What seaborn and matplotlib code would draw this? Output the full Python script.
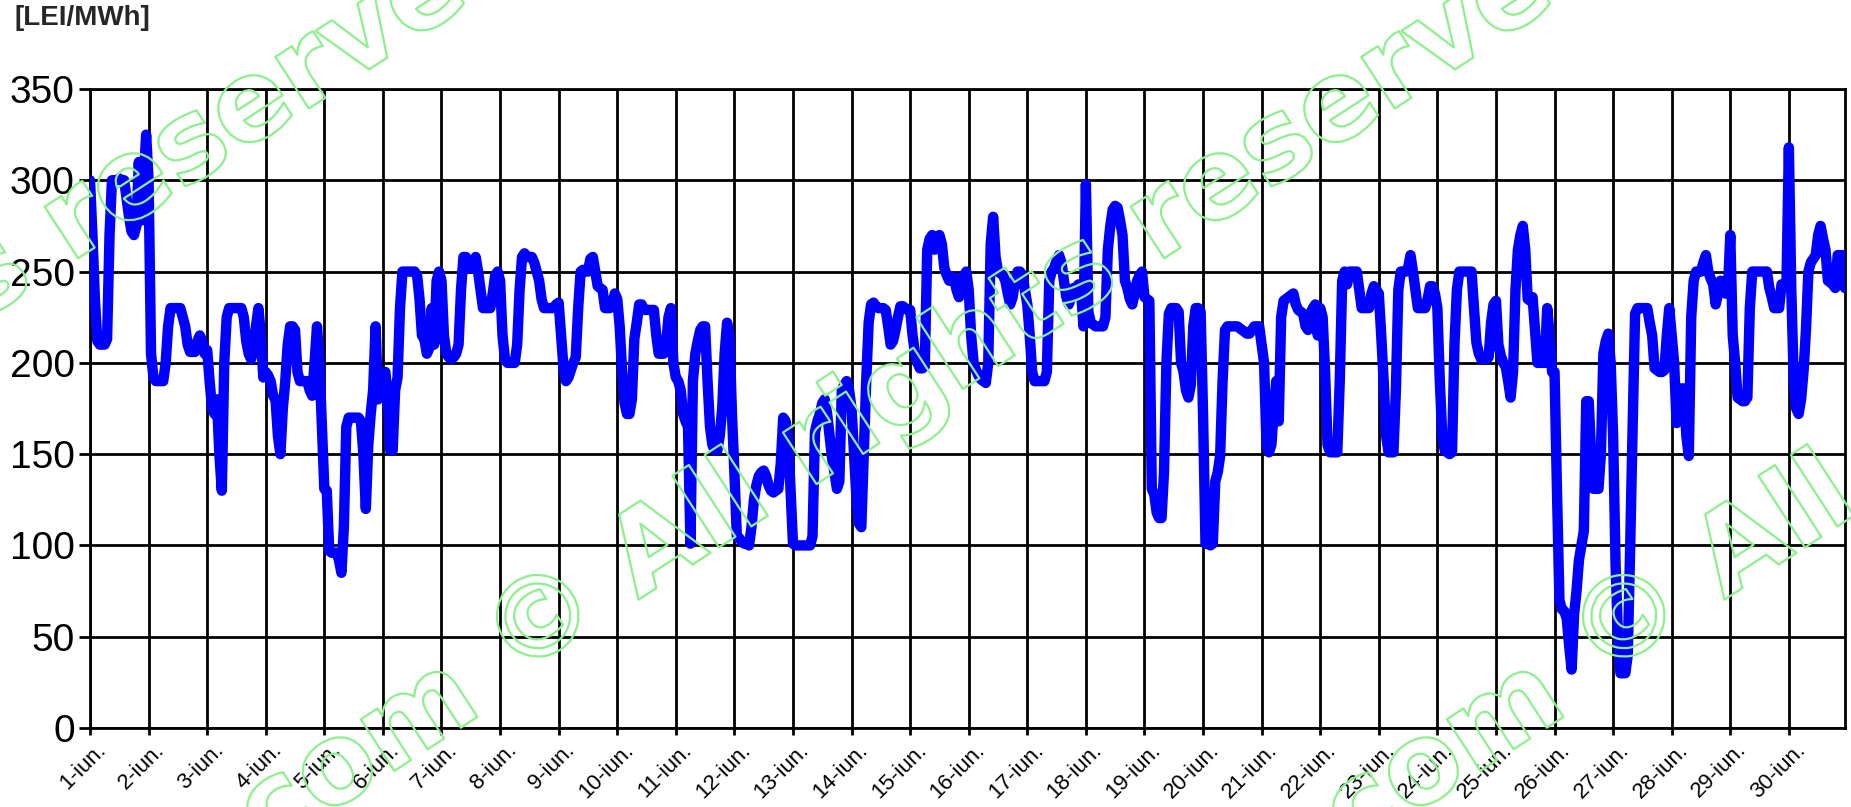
import numpy as np
import pandas as pd
import matplotlib
matplotlib.use("Agg")
import matplotlib.pyplot as plt
import matplotlib.patheffects as pe
import matplotlib.transforms as mtransforms
import seaborn as sns

# hourly prices [LEI/MWh], june, 24 values per day
d01 = [300, 270, 235, 212, 210, 210, 210, 213, 270, 300, 300, 300, 301, 300, 300, 290, 280, 272, 270, 275, 310, 278, 300, 325]
d02 = [300, 205, 192, 190, 190, 190, 190, 200, 220, 230, 230, 230, 230, 230, 225, 220, 210, 206, 206, 206, 212, 215, 212, 205]
d03 = [207, 190, 175, 172, 180, 150, 130, 200, 225, 230, 230, 230, 230, 230, 230, 225, 212, 205, 202, 207, 220, 230, 215, 192]
d04 = [195, 193, 190, 182, 180, 160, 150, 175, 190, 210, 220, 220, 218, 195, 190, 190, 190, 190, 185, 182, 200, 220, 200, 165]
d05 = [131, 130, 97, 96, 96, 96, 92, 85, 110, 165, 170, 170, 170, 170, 170, 168, 150, 120, 155, 172, 185, 220, 180, 185]
d06 = [192, 195, 180, 152, 152, 185, 192, 230, 250, 250, 250, 250, 250, 250, 248, 235, 215, 213, 205, 208, 230, 210, 245, 250]
d07 = [245, 215, 205, 203, 202, 203, 205, 210, 240, 258, 258, 252, 252, 255, 258, 250, 240, 230, 230, 230, 230, 238, 248, 250]
d08 = [245, 215, 202, 200, 200, 200, 200, 210, 240, 258, 260, 258, 258, 258, 255, 250, 245, 235, 230, 230, 230, 230, 230, 232]
d09 = [233, 215, 197, 190, 192, 196, 200, 203, 230, 250, 251, 250, 250, 257, 258, 250, 242, 241, 240, 230, 230, 230, 232, 238]
d10 = [235, 220, 195, 178, 172, 172, 180, 213, 222, 232, 232, 229, 229, 229, 229, 229, 215, 205, 205, 205, 210, 225, 230, 200]
d11 = [192, 190, 185, 172, 168, 165, 101, 190, 205, 212, 218, 220, 220, 190, 165, 155, 152, 152, 160, 175, 205, 222, 215, 172]
d12 = [140, 105, 104, 102, 101, 101, 100, 110, 125, 133, 138, 140, 141, 138, 133, 130, 129, 130, 131, 145, 170, 168, 160, 130]
d13 = [101, 100, 100, 100, 100, 100, 100, 100, 105, 162, 168, 172, 178, 180, 172, 160, 148, 140, 131, 135, 185, 188, 190, 185]
d14 = [175, 150, 126, 112, 110, 150, 190, 222, 232, 233, 231, 230, 230, 230, 229, 220, 210, 212, 218, 225, 231, 231, 230, 229]
d15 = [229, 215, 205, 200, 197, 197, 198, 262, 268, 270, 262, 268, 270, 265, 252, 248, 245, 245, 247, 240, 236, 238, 248, 250]
d16 = [240, 215, 200, 196, 193, 191, 190, 189, 200, 265, 280, 258, 250, 249, 248, 245, 238, 232, 236, 245, 250, 250, 248, 240]
d17 = [232, 215, 195, 190, 190, 190, 190, 190, 195, 245, 250, 252, 256, 259, 255, 245, 236, 232, 236, 241, 241, 243, 240, 220]
d18 = [298, 228, 222, 221, 220, 220, 220, 220, 225, 262, 275, 284, 286, 285, 278, 270, 245, 241, 235, 232, 238, 245, 248, 250]
d19 = [236, 235, 234, 131, 128, 118, 115, 115, 140, 200, 227, 230, 230, 230, 228, 200, 195, 185, 181, 188, 220, 230, 230, 228]
d20 = [172, 101, 101, 100, 101, 135, 140, 149, 190, 218, 220, 220, 220, 220, 220, 219, 218, 217, 216, 216, 218, 220, 220, 220]
d21 = [210, 200, 155, 151, 155, 175, 190, 168, 225, 234, 235, 236, 237, 238, 232, 229, 228, 227, 220, 218, 227, 230, 232, 215]
d22 = [230, 225, 195, 155, 151, 151, 151, 151, 190, 245, 250, 243, 250, 250, 250, 250, 240, 230, 230, 230, 230, 238, 242, 240]
d23 = [238, 215, 190, 160, 151, 151, 151, 185, 240, 250, 250, 250, 252, 259, 250, 240, 230, 230, 230, 230, 235, 242, 242, 238]
d24 = [230, 190, 160, 152, 151, 150, 151, 210, 240, 250, 250, 250, 250, 250, 250, 230, 211, 205, 202, 202, 202, 203, 222, 232]
d25 = [234, 210, 204, 200, 198, 190, 181, 195, 240, 262, 270, 275, 262, 235, 234, 236, 218, 200, 200, 200, 200, 230, 215, 195]
d26 = [195, 130, 70, 65, 64, 60, 45, 32, 62, 75, 92, 100, 108, 179, 179, 150, 131, 131, 131, 150, 205, 212, 216, 200]
d27 = [160, 90, 50, 30, 30, 30, 40, 100, 165, 227, 230, 230, 230, 230, 230, 222, 215, 197, 196, 195, 195, 196, 215, 230]
d28 = [215, 200, 167, 180, 186, 186, 160, 149, 225, 245, 250, 250, 250, 255, 259, 250, 246, 243, 232, 238, 245, 240, 238, 238]
d29 = [270, 215, 200, 181, 180, 179, 179, 181, 230, 250, 250, 250, 250, 250, 250, 250, 241, 236, 230, 230, 230, 243, 243, 242]
d30 = [318, 240, 190, 175, 172, 180, 195, 218, 250, 255, 257, 259, 270, 275, 268, 262, 245, 244, 243, 241, 259, 259, 259, 241]

days = [d01, d02, d03, d04, d05, d06, d07, d08, d09, d10,
        d11, d12, d13, d14, d15, d16, d17, d18, d19, d20,
        d21, d22, d23, d24, d25, d26, d27, d28, d29, d30]

day_labels = ["1-iun.", "2-iun.", "3-iun.", "4-iun.", "5-iun.", "6-iun.", "7-iun.", "8-iun.",
              "9-iun.", "10-iun.", "11-iun.", "12-iun.", "13-iun.", "14-iun.", "15-iun.",
              "16-iun.", "17-iun.", "18-iun.", "19-iun.", "20-iun.", "21-iun.", "22-iun.",
              "23-iun.", "24-iun.", "25-iun.", "26-iun.", "27-iun.", "28-iun.", "29-iun.", "30-iun."]

price = np.concatenate(days)
df = pd.DataFrame({"hour": np.arange(len(price)), "price": price})

sns.set_style("white")
plt.rcParams["font.family"] = ["Liberation Sans", "DejaVu Sans"]

W, H = 1851, 807
fig = plt.figure(figsize=(W / 100, H / 100), dpi=100)
ax = fig.add_axes([90 / W, 1 - 728 / H, (1845 - 90) / W, (728 - 89) / H])

sns.lineplot(data=df, x="hour", y="price", color="#0000FF", linewidth=7.5,
             solid_joinstyle="round", solid_capstyle="round", ax=ax, zorder=3)

ax.set_xlim(0, len(price) - 1)
ax.set_ylim(0, 350)
ax.set_yticks(range(0, 351, 50))
ax.set_xticks(range(0, len(price), 24))
ax.set_xticklabels(day_labels, rotation=45, ha="right", rotation_mode="anchor")
ax.set_xlabel("")
ax.set_ylabel("")

ax.grid(True, color="black", linewidth=2.0)
ax.set_axisbelow(True)
for s in ax.spines.values():
    s.set_color("black")
    s.set_linewidth(2.0)

ax.tick_params(axis="y", length=8, width=2.0, labelsize=28, pad=3, left=True, colors="black")
ax.tick_params(axis="x", length=5, width=2.0, labelsize=16, pad=3, bottom=True, colors="black")

# shift day labels a little to the right of their tick
shift = mtransforms.ScaledTranslation(4 / 72, 0, fig.dpi_scale_trans)
for lab in ax.get_xticklabels():
    lab.set_transform(lab.get_transform() + shift)

fig.text(15 / W, 1 - 5 / H, "[LEI/MWh]", fontsize=20, fontweight="bold", va="top", ha="left")

# watermark
wm = dict(color="none", fontsize=81, fontweight="bold", family="DejaVu Sans",
          rotation=33, rotation_mode="anchor",
          path_effects=[pe.withStroke(linewidth=1.6, foreground="#8CF08C")])
for dx in (-1086, 0, 1086):
    fig.text((638 + dx) / W, 1 - 600 / H, "All rights reserved", ha="left", va="baseline", **wm)
    fig.text((543 + dx) / W, 1 - 624 / H, "©", ha="center", va="center", **wm)
    fig.text((485 + dx) / W, 1 - 712 / H, "com", ha="right", va="baseline", **wm)

fig.savefig("out.png", dpi=100)
